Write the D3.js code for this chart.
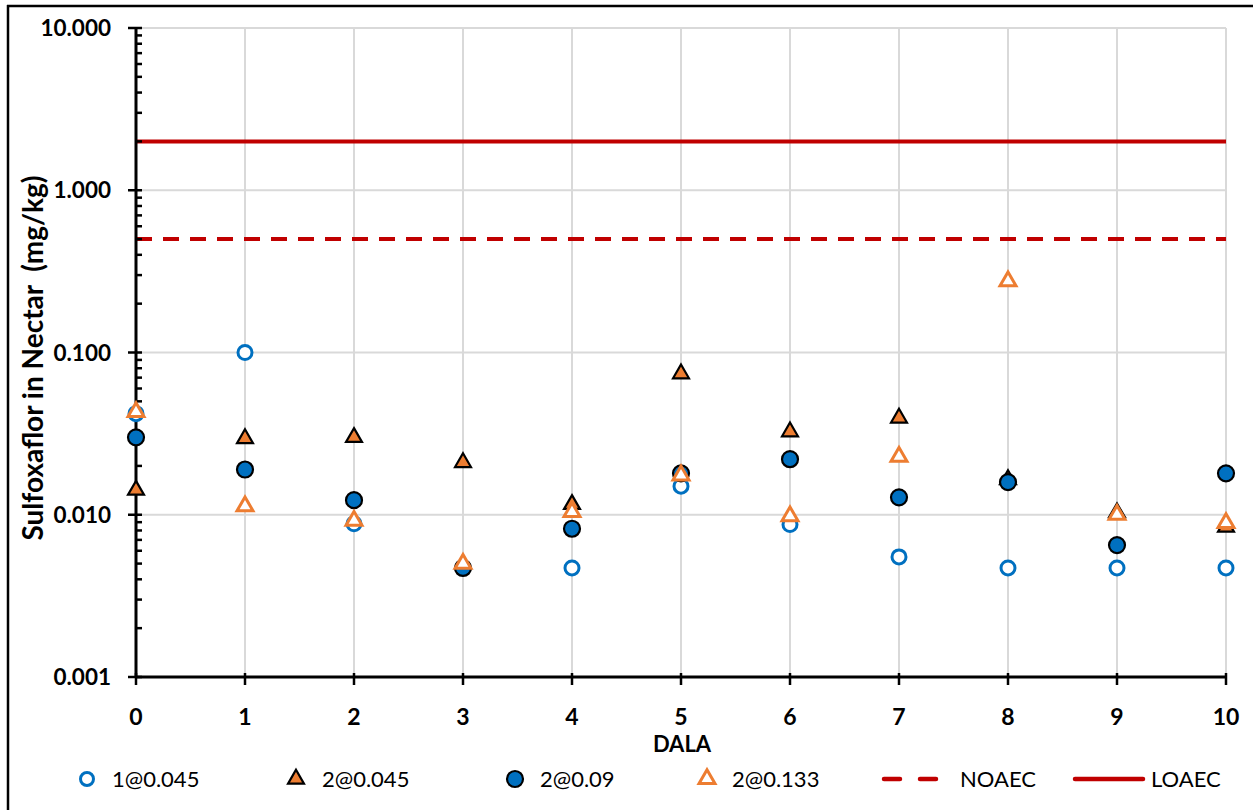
<!DOCTYPE html>
<html>
<head>
<meta charset="utf-8">
<script src="https://cdn.jsdelivr.net/npm/d3@7"></script>
<style>
  html, body { margin: 0; padding: 0; background: #fff; }
  svg { display: block; }
  text { font-family: Lato, "Open Sans", "Liberation Sans", sans-serif; }
</style>
</head>
<body>
<svg id="chart" width="1253" height="810"></svg>
<script>
// Days after last application
const dala = [0, 1, 2, 3, 4, 5, 6, 7, 8, 9, 10];

// Sulfoxaflor residues in nectar (mg/kg) per application scheme
const s1at045 = [0.042, 0.100, 0.0088, 0.0047, 0.0047, 0.0150, 0.0087, 0.0055, 0.0047, 0.0047, 0.0047];
const s2at045 = [0.0142, 0.0295, 0.0300, 0.0210, 0.0116, 0.0740, 0.0325, 0.0395, 0.0165, 0.0103, 0.0084];
const s2at09  = [0.0300, 0.0190, 0.0123, 0.0047, 0.0082, 0.0180, 0.0220, 0.0128, 0.0159, 0.0065, 0.0180];
const s2at133 = [0.0430, 0.0113, 0.0092, 0.0050, 0.0104, 0.0175, 0.0098, 0.0228, 0.2750, 0.0100, 0.0089];

// Effect thresholds (mg/kg)
const noaec = 0.5;
const loaec = 2.0;

const yTickValues = [0.001, 0.01, 0.1, 1, 10];
const yTickLabels = ["0.001", "0.010", "0.100", "1.000", "10.000"];
const legendLabels = ["1@0.045", "2@0.045", "2@0.09", "2@0.133", "NOAEC", "LOAEC"];

const BLUE = "#0070C0", ORANGE = "#ED7D31", RED = "#C00000", GRID = "#D9D9D9";

const svg = d3.select("#chart");
const plotL = 136, plotR = 1226, plotT = 28, plotB = 677;

const x = d3.scaleLinear().domain([0, 10]).range([plotL, plotR]);
const y = d3.scaleLog().domain([0.001, 10]).range([plotB, plotT]);

// outer frame (top and left edges)
svg.append("line").attr("x1", 7).attr("x2", 1253).attr("y1", 6).attr("y2", 6)
  .attr("stroke", "#000").attr("stroke-width", 2.5);
svg.append("line").attr("x1", 8).attr("x2", 8).attr("y1", 5).attr("y2", 810)
  .attr("stroke", "#000").attr("stroke-width", 2.5);

// gridlines
svg.append("g").selectAll("line").data(yTickValues.slice(1)).join("line")
  .attr("x1", plotL).attr("x2", plotR)
  .attr("y1", d => y(d)).attr("y2", d => y(d))
  .attr("stroke", GRID).attr("stroke-width", 2);
svg.append("g").selectAll("line").data(dala.slice(1)).join("line")
  .attr("x1", d => x(d)).attr("x2", d => x(d))
  .attr("y1", plotT).attr("y2", plotB)
  .attr("stroke", GRID).attr("stroke-width", 2);

// threshold lines
svg.append("line").attr("x1", plotL).attr("x2", plotR)
  .attr("y1", y(loaec)).attr("y2", y(loaec))
  .attr("stroke", RED).attr("stroke-width", 4);
svg.append("line").attr("x1", plotL).attr("x2", plotR)
  .attr("y1", y(noaec)).attr("y2", y(noaec))
  .attr("stroke", RED).attr("stroke-width", 4).attr("stroke-dasharray", "16 11");

// y axis: major ticks cross the line, minor ticks point inward
const minor = [];
for (let e = -3; e < 1; e++) for (let m = 2; m <= 9; m++) minor.push(m * Math.pow(10, e));
const yAxis = svg.append("g");
yAxis.selectAll("line.minor").data(minor).join("line").attr("class", "minor")
  .attr("x1", plotL).attr("x2", plotL + 6)
  .attr("y1", d => y(d)).attr("y2", d => y(d))
  .attr("stroke", "#000").attr("stroke-width", 2.5);
yAxis.selectAll("line.major").data(yTickValues).join("line").attr("class", "major")
  .attr("x1", plotL - 8).attr("x2", plotL + 6)
  .attr("y1", d => y(d)).attr("y2", d => y(d))
  .attr("stroke", "#000").attr("stroke-width", 2.5);
yAxis.append("line").attr("x1", plotL).attr("x2", plotL).attr("y1", plotT - 1).attr("y2", plotB + 1)
  .attr("stroke", "#000").attr("stroke-width", 3);
yAxis.selectAll("text").data(yTickValues).join("text")
  .attr("x", plotL - 25).attr("y", d => y(d)).attr("dy", "0.36em")
  .attr("text-anchor", "end").attr("font-weight", "bold")
  .attr("font-size", 22.5)
  .text((d, i) => yTickLabels[i]);

// x axis
const xAxis = svg.append("g");
xAxis.selectAll("line").data(dala).join("line")
  .attr("x1", d => x(d)).attr("x2", d => x(d))
  .attr("y1", plotB - 4).attr("y2", plotB + 8)
  .attr("stroke", "#000").attr("stroke-width", 2.5);
xAxis.append("line").attr("x1", plotL - 1).attr("x2", plotR + 1).attr("y1", plotB).attr("y2", plotB)
  .attr("stroke", "#000").attr("stroke-width", 3);
xAxis.selectAll("text").data(dala).join("text")
  .attr("x", d => x(d)).attr("y", 725)
  .attr("text-anchor", "middle").attr("font-weight", "bold").attr("font-size", 23)
  .text(d => d);

// axis titles
svg.append("text").attr("x", (plotL + plotR) / 2 + 1).attr("y", 752)
  .attr("text-anchor", "middle").attr("font-weight", "bold").attr("font-size", 22)
  .text("DALA");
svg.append("text").attr("transform", "translate(43, 358) rotate(-90)")
  .attr("text-anchor", "middle").attr("font-weight", "bold").attr("font-size", 28)
  .attr("xml:space", "preserve")
  .text("Sulfoxaflor in Nectar  (mg/kg)");

// marker helpers
const triPath = d3.symbol().type(d3.symbolTriangle).size(110);
function drawSeries(values, kind) {
  const g = svg.append("g");
  const pts = dala.map((d, i) => ({ x: d, v: values[i] }));
  if (kind === "openCircle") {
    g.selectAll("circle").data(pts).join("circle")
      .attr("cx", d => x(d.x)).attr("cy", d => y(d.v)).attr("r", 7)
      .attr("fill", "#fff").attr("stroke", BLUE).attr("stroke-width", 3);
  } else if (kind === "filledCircle") {
    g.selectAll("circle").data(pts).join("circle")
      .attr("cx", d => x(d.x)).attr("cy", d => y(d.v)).attr("r", 8)
      .attr("fill", BLUE).attr("stroke", "#000").attr("stroke-width", 2.2);
  } else if (kind === "filledTri") {
    g.selectAll("path").data(pts).join("path")
      .attr("transform", d => `translate(${x(d.x)},${y(d.v)})`)
      .attr("d", triPath)
      .attr("fill", ORANGE).attr("stroke", "#000").attr("stroke-width", 2.2);
  } else {
    g.selectAll("path").data(pts).join("path")
      .attr("transform", d => `translate(${x(d.x)},${y(d.v)})`)
      .attr("d", triPath)
      .attr("fill", "#fff").attr("stroke", ORANGE).attr("stroke-width", 3);
  }
}
drawSeries(s1at045, "openCircle");
drawSeries(s2at045, "filledTri");
drawSeries(s2at09, "filledCircle");
drawSeries(s2at133, "openTri");

// legend
const ly = 779;
const leg = svg.append("g");
leg.append("circle").attr("cx", 87).attr("cy", ly).attr("r", 6.5)
  .attr("fill", "#fff").attr("stroke", BLUE).attr("stroke-width", 3);
leg.append("path").attr("transform", `translate(296,${ly})`).attr("d", triPath)
  .attr("fill", ORANGE).attr("stroke", "#000").attr("stroke-width", 2.2);
leg.append("circle").attr("cx", 515).attr("cy", ly).attr("r", 8)
  .attr("fill", BLUE).attr("stroke", "#000").attr("stroke-width", 2.2);
leg.append("path").attr("transform", `translate(707,${ly})`).attr("d", triPath)
  .attr("fill", "#fff").attr("stroke", ORANGE).attr("stroke-width", 3);
leg.append("line").attr("x1", 884).attr("x2", 936).attr("y1", ly).attr("y2", ly)
  .attr("stroke", RED).attr("stroke-width", 4.5).attr("stroke-linecap", "round")
  .attr("stroke-dasharray", "16 20");
leg.append("line").attr("x1", 1075).attr("x2", 1143).attr("y1", ly).attr("y2", ly)
  .attr("stroke", RED).attr("stroke-width", 4.5).attr("stroke-linecap", "round");
const legX = [112, 322, 540, 732, 960, 1151];
leg.selectAll("text").data(legendLabels).join("text")
  .attr("x", (d, i) => legX[i]).attr("y", ly).attr("dy", "0.36em")
  .attr("font-size", 22).text(d => d);
</script>
</body>
</html>
